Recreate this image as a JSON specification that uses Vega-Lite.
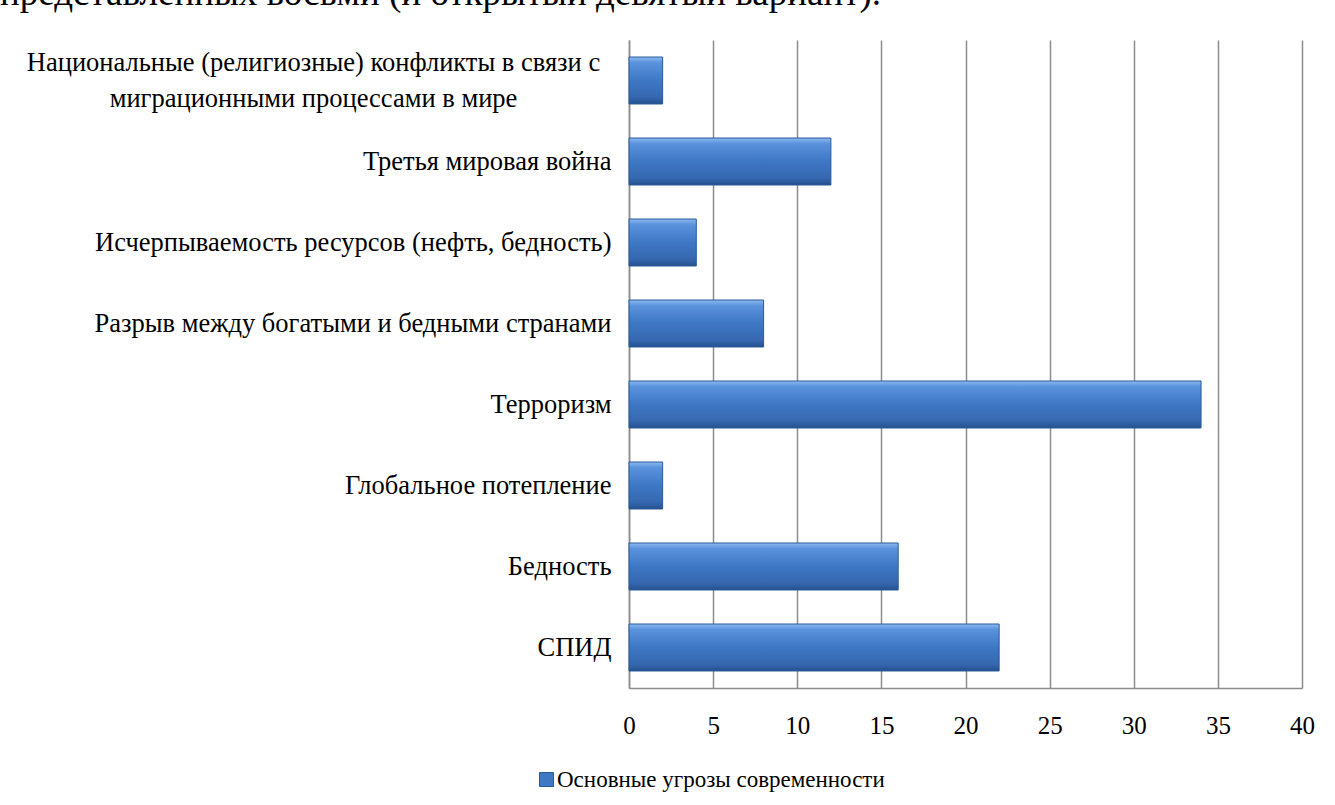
{
  "$schema": "https://vega.github.io/schema/vega-lite/v6.json",
  "autosize": "none",
  "width": 673,
  "height": 648,
  "padding": {"left": 629, "top": 40, "right": 33, "bottom": 117},
  "background": "white",
  "title": {
    "text": "представленных восьми (и открытый девятый вариант).",
    "anchor": "start",
    "frame": "group",
    "font": "Liberation Serif",
    "fontSize": 37,
    "fontWeight": "normal",
    "color": "black",
    "baseline": "alphabetic",
    "offset": -2,
    "dx": -629
  },
  "data": {
    "values": [
      {"threat": "Национальные (религиозные) конфликты в связи с миграционными процессами в мире", "value": 2, "series": "Основные угрозы современности"},
      {"threat": "Третья мировая война", "value": 12, "series": "Основные угрозы современности"},
      {"threat": "Исчерпываемость ресурсов (нефть, бедность)", "value": 4, "series": "Основные угрозы современности"},
      {"threat": "Разрыв между богатыми и бедными странами", "value": 8, "series": "Основные угрозы современности"},
      {"threat": "Терроризм", "value": 34, "series": "Основные угрозы современности"},
      {"threat": "Глобальное потепление", "value": 2, "series": "Основные угрозы современности"},
      {"threat": "Бедность", "value": 16, "series": "Основные угрозы современности"},
      {"threat": "СПИД", "value": 22, "series": "Основные угрозы современности"}
    ]
  },
  "encoding": {
    "y": {
      "field": "threat",
      "type": "nominal",
      "sort": null,
      "scale": {"paddingInner": 0.42, "paddingOuter": 0.21},
      "axis": {
        "title": null,
        "ticks": false,
        "domain": true,
        "domainColor": "#8c8c8c",
        "domainWidth": 1.5,
        "labelFont": "Liberation Serif",
        "labelFontSize": 26.5,
        "labelColor": "black",
        "labelPadding": {"condition": {"test": "length(datum.value) > 60", "value": 316}, "value": 18},
        "labelAlign": {"condition": {"test": "length(datum.value) > 60", "value": "center"}, "value": "right"},
        "labelOffset": {"condition": {"test": "length(datum.value) > 60", "value": -18}, "value": 0},
        "labelLimit": 0,
        "labelLineHeight": 36,
        "labelExpr": "length(datum.value) > 60 ? ['Национальные (религиозные) конфликты в связи с', 'миграционными процессами в мире'] : datum.value"
      }
    },
    "x": {
      "field": "value",
      "type": "quantitative",
      "scale": {"domain": [0, 40], "nice": false},
      "axis": {
        "title": null,
        "values": [0, 5, 10, 15, 20, 25, 30, 35, 40],
        "ticks": false,
        "grid": true,
        "gridColor": "#8c8c8c",
        "gridWidth": 1.5,
        "domainColor": "#8c8c8c",
        "domainWidth": 1.5,
        "labelFont": "Liberation Serif",
        "labelFontSize": 25,
        "labelColor": "black",
        "labelPadding": 25,
        "labelFlush": false
      }
    }
  },
  "layer": [
    {
      "mark": {
        "type": "bar",
        "stroke": "#2a5b98",
        "strokeWidth": 1,
        "color": {
          "gradient": "linear",
          "x1": 0, "y1": 0, "x2": 0, "y2": 1,
          "stops": [
            {"offset": 0, "color": "#8cbaf0"},
            {"offset": 0.12, "color": "#5a92dc"},
            {"offset": 0.5, "color": "#3e77c4"},
            {"offset": 0.85, "color": "#3668b0"},
            {"offset": 1, "color": "#24508e"}
          ]
        }
      }
    },
    {
      "mark": {"type": "point", "shape": "square", "filled": true, "opacity": 0},
      "encoding": {
        "color": {
          "field": "series",
          "type": "nominal",
          "scale": {"range": ["#3e77c4"]},
          "legend": {
            "title": null,
            "orient": "none",
            "legendX": -94,
            "legendY": 728,
            "symbolType": "square",
            "symbolSize": 196,
            "symbolOpacity": 1,
            "symbolStrokeColor": "#2a5b98",
            "symbolStrokeWidth": 1,
            "labelFont": "Liberation Serif",
            "labelFontSize": 23,
            "labelColor": "black",
            "labelLimit": 0,
            "labelOffset": -1
          }
        }
      }
    }
  ],
  "config": {
    "view": {"stroke": null}
  }
}
